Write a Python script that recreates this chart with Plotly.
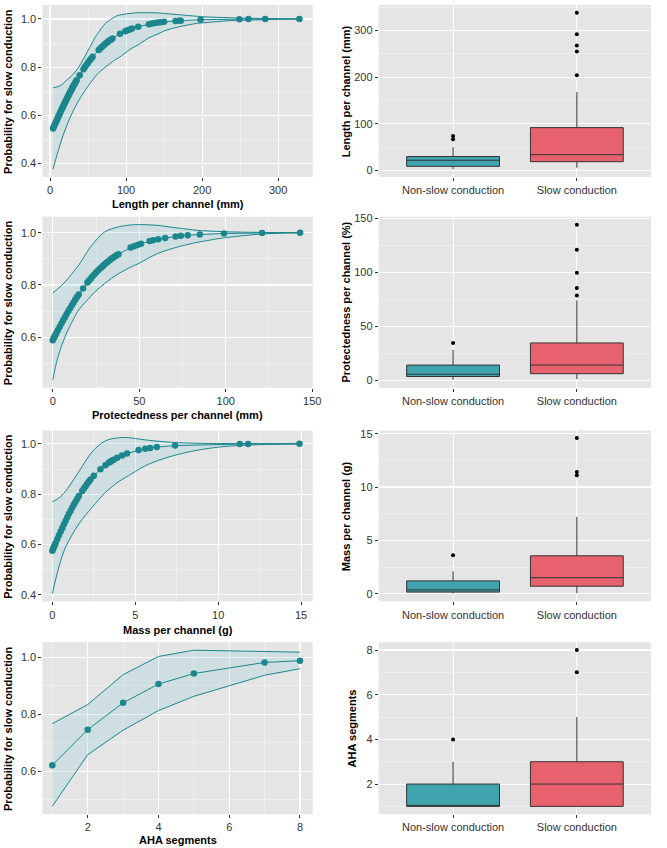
import plotly.graph_objects as go

# ---------------- DATA ----------------
# Panel A: Length per channel (mm)
len_x = [4, 5, 6, 7, 8, 9, 10, 11, 12, 13, 14, 15, 16, 17, 18, 19, 20, 21, 22, 23, 24, 25, 26, 27, 28, 29, 30,
         31, 32, 33, 34, 35, 39, 44, 46, 48, 50, 52, 54, 56, 64, 66, 68, 70, 72, 74, 76, 78, 80, 82, 92, 99,
         102, 105, 108, 116, 130, 134, 138, 142, 146, 150, 165, 170, 172, 198, 249, 261, 283, 328]
len_p = [0.545, 0.552, 0.559, 0.566, 0.573, 0.580, 0.587, 0.594, 0.601, 0.608, 0.615, 0.622, 0.629, 0.635,
         0.642, 0.648, 0.655, 0.661, 0.668, 0.674, 0.680, 0.687, 0.693, 0.699, 0.705, 0.711, 0.717, 0.723,
         0.728, 0.734, 0.740, 0.745, 0.766, 0.791, 0.801, 0.810, 0.818, 0.827, 0.835, 0.843, 0.871, 0.877,
         0.883, 0.889, 0.895, 0.900, 0.905, 0.910, 0.914, 0.919, 0.938, 0.949, 0.953, 0.956, 0.960, 0.968,
         0.978, 0.981, 0.983, 0.985, 0.986, 0.988, 0.992, 0.993, 0.993, 0.997, 0.999, 1.0, 1.0, 1.0]
len_band_x = [4, 13, 21.5, 34, 47, 60, 64, 73, 86, 90, 108, 116, 129, 142, 150, 168, 194, 202, 237, 258, 328]
len_upper = [0.714, 0.722, 0.744, 0.783, 0.851, 0.927, 0.945, 0.982, 1.010, 1.015, 1.024, 1.026, 1.026,
             1.025, 1.023, 1.018, 1.011, 1.009, 1.005, 1.003, 1.0]
len_lower = [0.376, 0.475, 0.553, 0.640, 0.707, 0.762, 0.776, 0.800, 0.831, 0.838, 0.879, 0.892, 0.920,
             0.938, 0.950, 0.966, 0.982, 0.984, 0.993, 0.995, 1.0]

# Panel C: Protectedness per channel
prot_x = [0, 0.5, 1, 1.5, 2, 3, 4, 5, 6, 7, 8, 9, 10, 11, 12, 13, 14, 15, 17.5, 20, 21, 22, 23, 24, 25, 26,
          27, 28, 29, 30, 31, 32, 33, 34, 35, 36, 37, 38, 45, 47, 49, 51, 56, 58, 61, 65, 71, 74, 78, 85, 99,
          121, 143]
prot_p = [0.589, 0.596, 0.602, 0.609, 0.615, 0.628, 0.640, 0.653, 0.665, 0.677, 0.689, 0.700, 0.711, 0.722,
          0.733, 0.744, 0.754, 0.764, 0.787, 0.809, 0.817, 0.825, 0.833, 0.840, 0.848, 0.854, 0.861, 0.867,
          0.873, 0.879, 0.885, 0.890, 0.896, 0.901, 0.905, 0.910, 0.914, 0.918, 0.943, 0.948, 0.953, 0.958,
          0.968, 0.971, 0.975, 0.980, 0.985, 0.988, 0.990, 0.993, 0.997, 0.999, 1.0]
prot_band_x = [0, 2.8, 7.6, 13.3, 15, 20.9, 22.6, 30, 38, 45.6, 49, 60.5, 72, 76, 83.5, 98.7, 102.5, 121, 143]
prot_upper = [0.770, 0.785, 0.815, 0.862, 0.876, 0.937, 0.952, 1.003, 1.022, 1.030, 1.031, 1.028, 1.018,
              1.015, 1.009, 1.004, 1.003, 1.001, 1.0]
prot_lower = [0.437, 0.520, 0.610, 0.686, 0.705, 0.749, 0.762, 0.806, 0.843, 0.870, 0.880, 0.920, 0.945,
              0.952, 0.963, 0.980, 0.983, 0.995, 1.0]

# Panel E: Mass per channel (g)
mass_x = [0, 0.05, 0.1, 0.15, 0.2, 0.3, 0.4, 0.5, 0.6, 0.7, 0.8, 0.9, 1.0, 1.1, 1.2, 1.3, 1.4, 1.5, 1.6, 1.8,
          1.9, 2.0, 2.1, 2.2, 2.3, 2.5, 2.9, 3.2, 3.4, 3.5, 3.6, 3.7, 3.9, 4.2, 4.5, 5.2, 5.6, 5.9, 6.3, 7.4,
          11.3, 11.8, 14.9]
mass_p = [0.575, 0.583, 0.591, 0.599, 0.606, 0.622, 0.637, 0.652, 0.666, 0.681, 0.695, 0.708, 0.722, 0.734,
          0.747, 0.759, 0.771, 0.782, 0.793, 0.813, 0.823, 0.832, 0.841, 0.850, 0.858, 0.873, 0.899, 0.915,
          0.925, 0.929, 0.934, 0.937, 0.945, 0.954, 0.962, 0.975, 0.980, 0.983, 0.987, 0.993, 0.9995, 0.9996,
          1.0]
mass_band_x = [0, 0.4, 0.8, 1.6, 2.4, 3.2, 4.0, 4.4, 4.8, 5.8, 7.2, 8.7, 10.7, 14.9]
mass_upper = [0.770, 0.785, 0.812, 0.890, 0.968, 1.012, 1.024, 1.025, 1.023, 1.014, 1.006, 1.002, 1.001, 1.0]
mass_lower = [0.405, 0.512, 0.590, 0.682, 0.748, 0.807, 0.850, 0.866, 0.882, 0.919, 0.951, 0.974, 0.991, 1.0]

# Panel G: AHA segments
aha_x = [1, 2, 3, 4, 5, 7, 8]
aha_p = [0.621, 0.746, 0.840, 0.906, 0.943, 0.982, 0.988]
aha_upper = [0.767, 0.834, 0.939, 1.003, 1.025, 1.022, 1.018]
aha_lower = [0.477, 0.658, 0.744, 0.813, 0.863, 0.937, 0.960]

# Box plots: [lower whisker, Q1, median, Q3, upper whisker]
groups = ["Non-slow conduction", "Slow conduction"]
len_box = {"Non-slow conduction": [3, 9, 22, 30, 50], "Slow conduction": [6, 19, 34, 92, 168]}
len_out = {"Non-slow conduction": [67, 74], "Slow conduction": [204, 255, 268, 292, 338]}
prot_box = {"Non-slow conduction": [0.5, 3.4, 5.5, 14, 28], "Slow conduction": [1, 6, 14, 34.5, 74]}
prot_out = {"Non-slow conduction": [34.5], "Slow conduction": [78.5, 85.5, 99.5, 121, 144]}
mass_box = {"Non-slow conduction": [0.02, 0.15, 0.35, 1.2, 2.1], "Slow conduction": [0.05, 0.7, 1.5, 3.55, 7.2]}
mass_out = {"Non-slow conduction": [3.6], "Slow conduction": [11.1, 11.4, 14.6]}
aha_box = {"Non-slow conduction": [1, 1, 1, 2, 3], "Slow conduction": [1, 1, 2, 3, 5]}
aha_out = {"Non-slow conduction": [4], "Slow conduction": [7, 8]}

# ---------------- STYLE ----------------
W, H = 667, 848
TEAL = "#1B868C"
BAND = "rgba(120,200,210,0.2)"
BOX_COLORS = {"Non-slow conduction": "#41A3AE", "Slow conduction": "#E8616F"}
FONT = "Liberation Sans, Arial, sans-serif"
TICK_FONT = dict(family=FONT, size=11, color="#333333")
TITLE_FONT = dict(family=FONT, size=11, color="black")

LEFT = (43, 317)
RIGHT = (384, 660)
ROWS = [(0, 173), (213, 385), (428, 600), (641, 814)]


def xd(a, b):
    return [a / W, b / W]


def yd(top, bottom):
    return [1 - bottom / H, 1 - top / H]


fig = go.Figure()
layout = {}
annotations = []


def num_axis(dom, rng, dtick, minor_dtick, fmt=None):
    d = dict(domain=dom, range=rng, dtick=dtick, tick0=0, showgrid=True, gridcolor="white", gridwidth=1.1,
             zeroline=False, showline=False, ticks="outside", ticklen=3, tickwidth=1, tickcolor="#333333",
             tickfont=TICK_FONT, fixedrange=True,
             minor=dict(dtick=minor_dtick, tick0=0, showgrid=True, gridcolor="#F3F3F3", gridwidth=0.6, ticks=""))
    if fmt:
        d["tickformat"] = fmt
    return d


def cat_axis(dom):
    return dict(domain=dom, type="category", range=[-0.6, 1.6], showgrid=True, gridcolor="white", gridwidth=1.1,
                zeroline=False, showline=False, ticks="outside", ticklen=3, tickwidth=1, tickcolor="#333333",
                tickfont=TICK_FONT, fixedrange=True, categoryorder="array", categoryarray=groups)


def ax_name(kind, i):
    return kind + ("" if i == 1 else str(i))


def add_title(text, xpx, ypx, angle=0):
    annotations.append(dict(text="<b>%s</b>" % text, x=xpx / W, y=1 - ypx / H, xref="paper", yref="paper",
                            xanchor="center", yanchor="middle", textangle=angle, showarrow=False,
                            font=TITLE_FONT))


def logistic_panel(i, row, px, pp, bx, bup, blo, xr, yr, xdt, xmdt, xtitle, title_dy=27, spline=True):
    top, bot = ROWS[row]
    xa, ya = ax_name("x", i), ax_name("y", i)
    shape = "spline" if spline else "linear"
    fig.add_trace(go.Scatter(x=bx, y=blo, mode="lines", line=dict(color=TEAL, width=1, shape=shape),
                             xaxis=xa, yaxis=ya, showlegend=False, hoverinfo="skip"))
    fig.add_trace(go.Scatter(x=bx, y=bup, mode="lines", line=dict(color=TEAL, width=1, shape=shape),
                             fill="tonexty", fillcolor=BAND, xaxis=xa, yaxis=ya, showlegend=False,
                             hoverinfo="skip"))
    fig.add_trace(go.Scatter(x=px, y=pp, mode="lines+markers", line=dict(color=TEAL, width=1),
                             marker=dict(color=TEAL, size=6.5), xaxis=xa, yaxis=ya, showlegend=False))
    layout[ax_name("xaxis", i)] = num_axis(xd(*LEFT), xr, xdt, xmdt)
    layout[ax_name("yaxis", i)] = num_axis(yd(top, bot), yr, 0.2, 0.1, ".1f")
    layout[ax_name("yaxis", i)]["anchor"] = xa
    layout[ax_name("xaxis", i)]["anchor"] = ya
    add_title("Probability for slow conduction", 8, (top + bot) / 2, -90)
    add_title(xtitle, 180, bot + title_dy)


def box_panel(i, row, stats, outs, yr, dtick, mdtick, ytitle, title_x=351):
    top, bot = ROWS[row]
    xa, ya = ax_name("x", i), ax_name("y", i)
    for g in groups:
        lo, q1, med, q3, hi = stats[g]
        fig.add_trace(go.Box(x=[g], q1=[q1], median=[med], q3=[q3], lowerfence=[lo], upperfence=[hi],
                             fillcolor=BOX_COLORS[g], line=dict(color="#333333", width=1), width=0.75,
                             whiskerwidth=0, boxpoints=False, xaxis=xa, yaxis=ya, showlegend=False))
        fig.add_trace(go.Scatter(x=[g] * len(outs[g]), y=outs[g], mode="markers",
                                 marker=dict(color="black", size=4), xaxis=xa, yaxis=ya, showlegend=False))
    layout[ax_name("xaxis", i)] = cat_axis(xd(*RIGHT))
    layout[ax_name("xaxis", i)]["anchor"] = ya
    layout[ax_name("yaxis", i)] = num_axis(yd(top, bot), yr, dtick, mdtick)
    layout[ax_name("yaxis", i)]["anchor"] = xa
    add_title(ytitle, title_x, (top + bot) / 2, -90)


logistic_panel(1, 0, len_x, len_p, len_band_x, len_upper, len_lower, [-10, 345.5], [0.343, 1.058], 100, 50,
               "Length per channel (mm)")
box_panel(2, 0, len_box, len_out, [-13.8, 354.8], 100, 50, "Length per channel (mm)")
logistic_panel(3, 1, prot_x, prot_p, prot_band_x, prot_upper, prot_lower, [-6, 150.3], [0.407, 1.061], 50, 25,
               "Protectedness per channel (mm)")
box_panel(4, 1, prot_box, prot_out, [-7.0, 151.5], 50, 25, "Protectedness per channel (%)")
logistic_panel(5, 2, mass_x, mass_p, mass_band_x, mass_upper, mass_lower, [-0.6, 15.7], [0.374, 1.053], 5, 2.5,
               "Mass per channel (g)", title_dy=29)
box_panel(6, 2, mass_box, mass_out, [-0.73, 15.3], 5, 2.5, "Mass per channel (g)")
logistic_panel(7, 3, aha_x, aha_p, aha_x, aha_upper, aha_lower, [0.72, 8.36], [0.449, 1.053], 2, 1,
               "AHA segments", title_dy=26, spline=False)
box_panel(8, 3, aha_box, aha_out, [0.65, 8.35], 2, 1, "AHA segments", title_x=357)

fig.update_layout(width=W, height=H, margin=dict(l=0, r=0, t=0, b=0), autosize=False,
                  plot_bgcolor="#E5E5E5", paper_bgcolor="white", font=dict(family=FONT, size=11),
                  annotations=annotations, boxmode="overlay", **layout)

fig.write_html("out.html", config={"displayModeBar": False, "staticPlot": True},
               post_script="document.body.style.margin='0px';document.body.style.overflow='hidden';")
